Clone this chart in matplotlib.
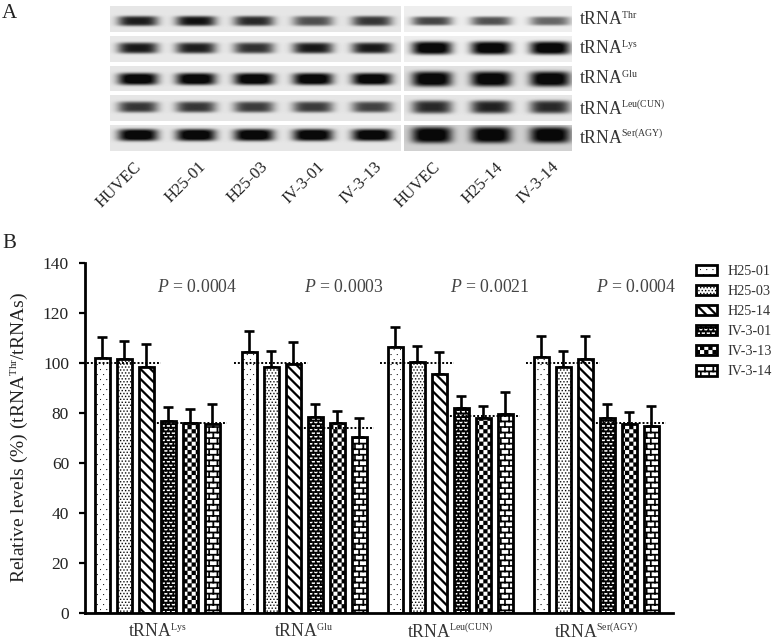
import numpy as np
import matplotlib
matplotlib.use('Agg')
import matplotlib.pyplot as plt
from matplotlib import hatch as mhatch
from matplotlib import _mathtext
from matplotlib.path import Path

plt.rcParams['font.family'] = ['Liberation Serif', 'DejaVu Serif']
plt.rcParams['mathtext.fontset'] = 'custom'
plt.rcParams['mathtext.rm'] = 'Liberation Serif'
plt.rcParams['mathtext.it'] = 'Liberation Serif:italic'
plt.rcParams['hatch.linewidth'] = 0.1
# superscripts are small in the figure
_mathtext.SHRINK_FACTOR = 0.55

groups = ['tRNA$^{\\mathrm{Lys}}$', 'tRNA$^{\\mathrm{Glu}}$', 'tRNA$^{\\mathrm{Leu(CUN)}}$', 'tRNA$^{\\mathrm{Ser(AGY)}}$']
lines = ['H25-01', 'H25-03', 'H25-14', 'IV-3-01', 'IV-3-13', 'IV-3-14']
means = [[102, 104.5, 106.5, 102.5],
         [101.5, 98.5, 100.5, 98.5],
         [98.5, 99.5, 95.5, 101.5],
         [77, 78.5, 82, 78],
         [76, 76, 78, 75.5],
         [75.5, 70.5, 79.5, 75]]
errs = [[8.5, 8.5, 8, 8.5],
        [7.5, 6.5, 6.5, 6.5],
        [9, 9, 9, 9.5],
        [5.5, 5, 5, 5.5],
        [5.5, 5, 5, 5],
        [8, 7.5, 9, 8]]
wt_level = [100, 100, 100, 100]
mut_level = [76, 74, 79, 76]
p_values = ['0.0004', '0.0003', '0.0021', '0.0004']

blot_left = ['HUVEC', 'H25-01', 'H25-03', 'IV-3-01', 'IV-3-13']
blot_right = ['HUVEC', 'H25-14', 'IV-3-14']
blot_names = ['tRNA$^{\\mathrm{Thr}}$', 'tRNA$^{\\mathrm{Lys}}$', 'tRNA$^{\\mathrm{Glu}}$',
              'tRNA$^{\\mathrm{Leu(CUN)}}$', 'tRNA$^{\\mathrm{Ser(AGY)}}$']
# band darkness per row, read by eye
dark_left = [[.80, .85, .75, .60, .70],
             [.82, .80, .72, .82, .82],
             [1.0, 1.0, 1.0, 1.0, 1.0],
             [.70, .70, .68, .68, .65],
             [1.0, 1.0, 1.0, 1.0, 1.0]]
dark_right = [[.65, .60, .52],
              [1.0, 1.0, 1.0],
              [1.0, 1.0, 1.0],
              [.75, .78, .75],
              [1.0, 1.0, 1.0]]
height_left = [5, 5.5, 6, 5.5, 6]
height_right = [4.5, 6.5, 7.5, 6.5, 8]
back_left = [.90, .91, .90, .90, .90]
back_right = [.93, .93, .88, .90, .82]
row_top = [6, 36, 66, 95, 125]
row_bot = [32, 62, 91, 121, 151]
band_y = [21, 48, 79, 107, 135]
name_base = [25, 54, 84, 114, 143]
x_left = [138, 196, 254, 313, 372]
x_right = [432, 491, 550]
label_end_left = [141, 206, 268, 325, 382]
label_end_right = [440, 503, 559]


def rects(items):
    polys = []
    for x0, y0, x1, y1 in items:
        polys.append([(x0, y0), (x1, y0), (x1, y1), (x0, y1), (x0, y0)])
    return polys


def dots(rows, cols, size):
    items = []
    for i in range(rows):
        for j in range(cols):
            x = (j + (i % 2) * .5) / cols
            y = i / rows
            items.append((x, y, x + size, y + size))
    return rects(items)


def bricks(rows, cols, t):
    items = []
    for i in range(rows):
        y = i / rows
        items.append((0, y, 1, y + t))
        for j in range(cols):
            x = (j + (i % 2) * .5) / cols
            items.append((x, y, x + t, y + 1 / rows))
    return rects(items)


def checks(n):
    s = 1 / n
    return rects([(j * s, i * s, (j + 1) * s, (i + 1) * s) for i in range(n) for j in range(n) if (i + j) % 2 == 0])


def stripes(n, t):
    polys = []
    for k in range(-n, 2 * n + 1):
        y = k / n
        polys.append([(-.1, y + .1), (1.1, y - 1.1), (1.1, y - 1.1 + t), (-.1, y + .1 + t), (-.1, y + .1)])
    return polys


tile_shapes = {'d': dots(20, 16, .009),
               'e': dots(34, 30, .012),
               's': stripes(10, .03),
               'k': bricks(28, 20, .017),
               'c': checks(24),
               'b': bricks(18, 12, .016)}


class Tile(mhatch.HatchPatternBase):
    # filled shapes, the stock hatches are too coarse for this figure
    def __init__(self, hatch, density):
        self.polys = []
        for key in tile_shapes:
            if key in hatch:
                self.polys += tile_shapes[key]
        self.num_vertices = 5 * len(self.polys)

    def set_vertices_and_codes(self, vertices, codes):
        for i, p in enumerate(self.polys):
            vertices[i * 5:i * 5 + 5] = p
            codes[i * 5:i * 5 + 5] = [Path.MOVETO, Path.LINETO, Path.LINETO, Path.LINETO, Path.CLOSEPOLY]


mhatch._hatch_types.append(Tile)

hatches = ['d', 'e', 's', 'k', 'c', 'b']

W, H = 775, 640
fig = plt.figure(figsize=(W / 100, H / 100), dpi=100)

# top panel, pixel coords
top = fig.add_axes([0, 0, 1, 1])
top.set_xlim(0, W)
top.set_ylim(H, 0)
top.axis('off')


def band_img(x0, x1, xs, row, darks, heights, backs):
    y0, y1 = row_top[row], row_bot[row]
    xx, yy = np.meshgrid(np.arange(x0, x1) + .5, np.arange(y0, y1) + .5)
    img = np.full(xx.shape, backs[row])
    for cx, d in zip(xs, darks[row]):
        shape = np.exp(-((xx - cx) / 20) ** 4 - ((yy - band_y[row]) / heights[row]) ** 4)
        img = img * (1 - d * shape * 1.1).clip(0.04, 1)
    top.imshow(img, extent=(x0, x1, y1, y0), cmap='gray', vmin=0, vmax=1, aspect='auto', interpolation='bilinear', zorder=1)


for r in range(5):
    band_img(110, 401, x_left, r, dark_left, height_left, back_left)
    band_img(404, 572, x_right, r, dark_right, height_right, back_right)
    top.text(579, name_base[r], blot_names[r], fontsize=12.8, color='#333333', va='baseline')
top.set_xlim(0, W)
top.set_ylim(H, 0)

for x, name in zip(label_end_left + label_end_right, blot_left + blot_right):
    top.text(x - 8, 159, name, rotation=45, fontsize=12, color='#222222', ha='right', va='top', rotation_mode='anchor')
top.text(2, 18, 'A', fontsize=15, color='#222222', va='baseline')
top.text(2, 248, 'B', fontsize=15, color='#222222', va='baseline')

# bar chart
ax = fig.add_axes([85 / W, 1 - 613 / H, (673 - 85) / W, (613 - 263) / H])
ax.set_xlim(85, 673)
ax.set_ylim(0, 140)
bar_w = 15
step = 22
group_x = [102, 249, 395, 541]
for s in range(6):
    xs = [g + s * step for g in group_x]
    ax.bar(xs, means[s], bar_w, color='white', edgecolor='black', linewidth=2, hatch=hatches[s], zorder=2)
    ax.errorbar(xs, means[s], yerr=[[0] * 4, errs[s]], fmt='none', ecolor='black', elinewidth=1.9, capsize=3.6, capthick=1.9, zorder=1)
for i, g in enumerate(group_x):
    ax.plot([g - 15, g + 2 * step + 15], [wt_level[i]] * 2, color='black', linestyle=(0, (1, 1)), linewidth=1.4, zorder=3)
    ax.plot([g + 3 * step - 15, g + 5 * step + 15], [mut_level[i]] * 2, color='black', linestyle=(0, (1, 1)), linewidth=1.4, zorder=3)
    ax.text(g + 95, 130, '$\\mathit{P}$ = ' + p_values[i], fontsize=12.8, color='#444444', ha='center', va='center')

ax.spines['top'].set_visible(False)
ax.spines['right'].set_visible(False)
ax.spines['left'].set_linewidth(2)
ax.spines['bottom'].set_linewidth(2)
ax.set_yticks(np.arange(0, 141, 20))
ax.tick_params(axis='y', width=1.6, length=4.5, pad=7, labelsize=12.5, labelcolor='#222222')
ax.set_xticks([g + 2.5 * step for g in group_x])
ax.set_xticklabels(groups, va='baseline')
ax.tick_params(axis='x', length=0, labelsize=12.8, labelcolor='#333333', pad=17)
ax.set_ylabel('Relative levels (%) (tRNA$^{\\mathrm{Thr}}$/tRNAs)', fontsize=14, color='#222222', labelpad=9)

# legend, placed by hand
handles = [plt.Rectangle((0, 0), 1, 1, facecolor='white', edgecolor='black', linewidth=2, hatch=h) for h in hatches]
fig.legend(handles, lines, loc='upper left', bbox_to_anchor=(696 / W, 1 - 265 / H), frameon=False,
           fontsize=10.2, labelcolor='#333333', handlelength=1.5, handleheight=0.72, labelspacing=0.5, handletextpad=0.7, borderpad=0, borderaxespad=0)

fig.savefig('out.png', dpi=100)
